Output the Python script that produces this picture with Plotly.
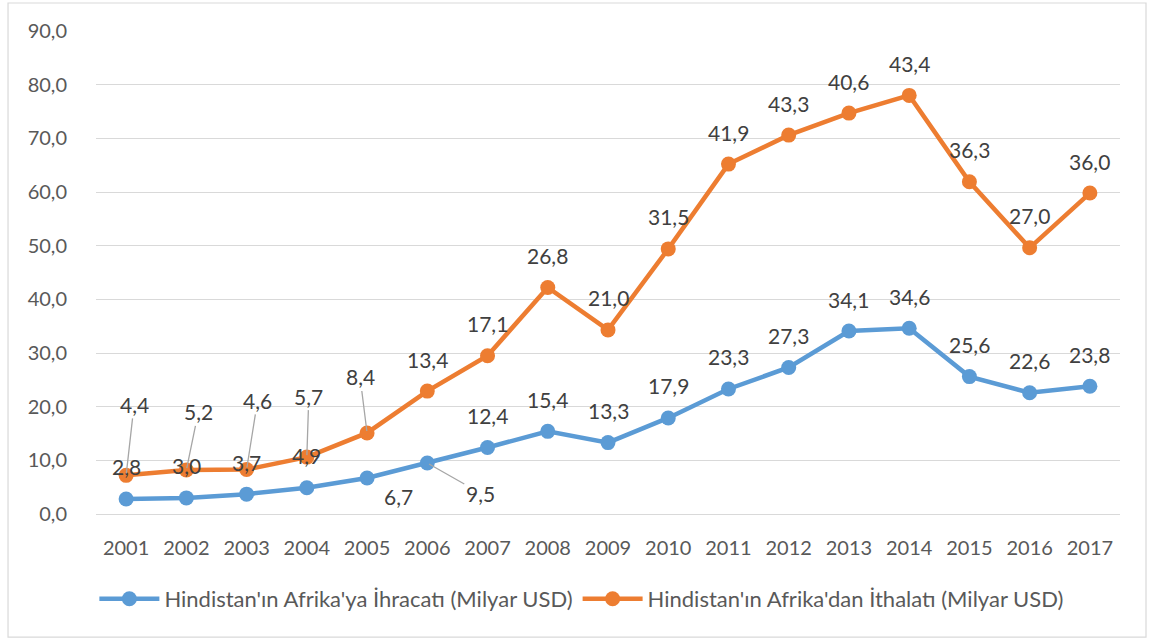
import plotly.graph_objects as go

years = ["2001", "2002", "2003", "2004", "2005", "2006", "2007", "2008", "2009",
         "2010", "2011", "2012", "2013", "2014", "2015", "2016", "2017"]
exports = [2.8, 3.0, 3.7, 4.9, 6.7, 9.5, 12.4, 15.4, 13.3, 17.9, 23.3, 27.3, 34.1, 34.6, 25.6, 22.6, 23.8]
imports = [4.4, 5.2, 4.6, 5.7, 8.4, 13.4, 17.1, 26.8, 21.0, 31.5, 41.9, 43.3, 40.6, 43.4, 36.3, 27.0, 36.0]
name_exp = "Hindistan'ın Afrika'ya İhracatı (Milyar USD)"
name_imp = "Hindistan'ın Afrika'dan İthalatı (Milyar USD)"
y_ticks = [0, 10, 20, 30, 40, 50, 60, 70, 80, 90]

# stacked line: import series plotted on top of export series
imports_stacked = [round(e + i, 1) for e, i in zip(exports, imports)]

BLUE = "#5B9BD5"
ORANGE = "#ED7D31"
FONT = "Lato"

fig = go.Figure()
fig.add_trace(go.Scatter(x=years, y=exports, name=name_exp, mode="lines+markers",
                         line=dict(color=BLUE, width=4.5), marker=dict(size=15, color=BLUE)))
fig.add_trace(go.Scatter(x=years, y=imports_stacked, name=name_imp, mode="lines+markers",
                         line=dict(color=ORANGE, width=4.5), marker=dict(size=15, color=ORANGE)))

def fmt(v):
    return f"{v:.1f}".replace(".", ",")

# label offsets (pixels) for manually moved labels; others sit 32px above the point
exp_moved = {"2005": (31, 18, False), "2006": (53, 30, True)}
imp_moved = {"2001": (8, -71), "2002": (12, -58), "2003": (11, -69), "2004": (2, -61), "2005": (-7, -56)}

label_font = dict(family=FONT, size=21, color="#404040")
annotations = []
for idx, (yr, v) in enumerate(zip(years, exports)):
    if yr in exp_moved:
        dx, dy, lead = exp_moved[yr]
        annotations.append(dict(x=idx, y=v, text=fmt(v), showarrow=True, ax=dx, ay=dy,
                                arrowhead=0, arrowwidth=1.3,
                                arrowcolor="#A6A6A6" if lead else "rgba(0,0,0,0)",
                                standoff=2, font=label_font))
    else:
        annotations.append(dict(x=idx, y=v, text=fmt(v), showarrow=False, yshift=32, font=label_font))
for idx, (yr, v, ys) in enumerate(zip(years, imports, imports_stacked)):
    if yr in imp_moved:
        dx, dy = imp_moved[yr]
        annotations.append(dict(x=idx, y=ys, text=fmt(v), showarrow=True, ax=dx, ay=dy,
                                arrowhead=0, arrowwidth=1.3, arrowcolor="#A6A6A6",
                                standoff=2, font=label_font))
    else:
        annotations.append(dict(x=idx, y=ys, text=fmt(v), showarrow=False, yshift=32, font=label_font))

fig.update_layout(
    width=1152, height=639,
    margin=dict(l=96, r=32, t=31, b=125),
    paper_bgcolor="white", plot_bgcolor="white",
    separators=", ",
    font=dict(family=FONT, size=20, color="#595959"),
    showlegend=True,
    legend=dict(orientation="h", x=0.474, xanchor="center", y=-0.176, yanchor="middle",
                font=dict(family=FONT, size=22, color="#595959"), itemwidth=60),
    annotations=annotations,
    shapes=[dict(type="rect", xref="paper", yref="paper", x0=-0.0859, x1=1.0254, y0=-0.255, y1=1.058,
                 line=dict(color="#D9D9D9", width=1.2), fillcolor="rgba(0,0,0,0)", layer="below")],
)
fig.update_xaxes(type="category", range=[-0.5, 16.5], showgrid=False, showline=False, zeroline=False,
                 ticks="", ticklabelstandoff=20, tickfont=dict(family=FONT, size=20, color="#595959"))
fig.update_yaxes(range=[0, 90], tickvals=y_ticks, tickformat=".1f", showgrid=True, gridcolor="#D9D9D9",
                 gridwidth=1.3, zeroline=True, zerolinecolor="#D9D9D9", zerolinewidth=1.3, showline=False,
                 ticks="", ticklabelstandoff=28, tickfont=dict(family=FONT, size=20, color="#595959"))

fig.write_html("out.html", config={"displayModeBar": False},
               post_script="document.body.style.margin='0px';")
